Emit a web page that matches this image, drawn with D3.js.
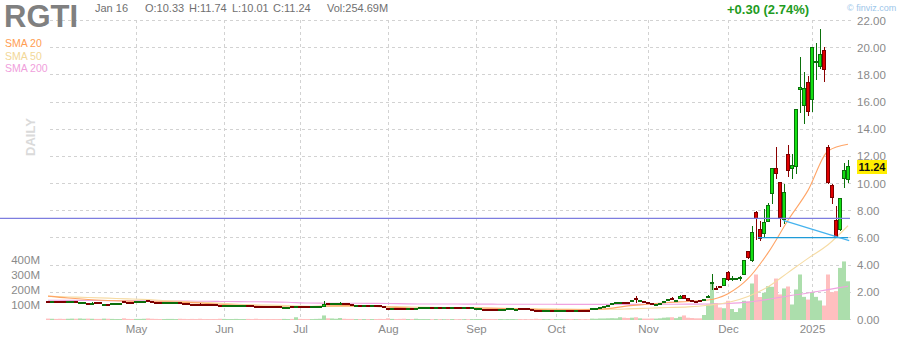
<!DOCTYPE html>
<html>
<head>
<meta charset="utf-8">
<script src="https://cdn.jsdelivr.net/npm/d3@7"></script>
<style>
body { margin: 0; background: #fff; }
svg { display: block; font-family: "Liberation Sans", Arial, sans-serif; }
</style>
</head>
<body>
<script>
// daily bars, Apr 1 2024 .. Jan 16 2025 (one row per month)
var opens = [
  1.36,1.32,1.34,1.33,1.29,1.30,1.35,1.33,1.20,1.20,1.17,1.15,1.23,1.22,1.07,1.12,1.16,1.13,1.13,1.30,1.28,1.27,
  1.26,1.28,1.31,1.40,1.30,1.28,1.26,1.25,1.25,1.26,1.26,1.22,1.17,1.15,1.11,1.10,1.14,1.10,1.09,1.09,1.08,1.03,
  0.99,1.00,0.99,1.00,1.00,0.99,1.03,1.02,0.95,0.94,0.93,0.93,0.93,0.93,0.92,0.84,0.83,0.92,0.90,
  0.94,0.93,0.92,0.92,0.93,0.95,0.99,1.16,1.13,1.14,1.15,1.16,1.15,1.07,1.04,1.05,1.04,1.06,1.04,1.05,1.00,0.99,
  0.84,0.80,0.82,0.80,0.79,0.77,0.78,0.80,0.83,0.84,0.85,0.86,0.85,0.86,0.85,0.86,0.85,0.87,0.86,0.85,0.86,0.85,
  0.78,0.79,0.76,0.74,0.73,0.72,0.74,0.75,0.76,0.77,0.76,0.80,0.79,0.78,0.77,0.69,0.68,0.67,0.68,0.69,
  0.66,0.67,0.68,0.69,0.68,0.67,0.68,0.67,0.66,0.74,0.82,0.84,0.88,0.96,1.10,1.20,1.21,1.25,1.24,1.32,1.58,1.33,1.30,
  1.26,1.20,1.10,1.15,1.25,1.42,1.56,1.34,1.52,1.74,1.52,1.38,1.31,1.38,1.42,1.60,2.66,2.31,2.43,2.51,
  3.43,2.99,2.95,3.00,3.31,4.97,4.31,7.88,6.61,6.32,7.22,9.27,11.10,10.08,7.37,12.13,11.10,11.25,16.90,15.73,17.41,
  16.16,18.90,18.59,19.76,12.65,9.86,7.29,6.63,10.37,10.33
];
var highs = [
  1.38,1.36,1.36,1.34,1.31,1.37,1.39,1.35,1.25,1.25,1.19,1.30,1.25,1.24,1.13,1.14,1.21,1.18,1.18,1.33,1.30,1.29,
  1.31,1.32,1.36,1.42,1.32,1.30,1.28,1.28,1.29,1.30,1.29,1.24,1.19,1.17,1.13,1.12,1.18,1.12,1.11,1.11,1.10,1.05,
  1.03,1.04,1.02,1.04,1.03,1.03,1.05,1.04,0.97,0.96,0.95,0.95,0.95,0.95,0.94,0.88,0.87,0.94,0.95,
  0.96,0.95,0.94,0.95,0.97,0.99,1.33,1.18,1.17,1.19,1.30,1.18,1.17,1.09,1.08,1.07,1.08,1.07,1.07,1.06,1.02,1.01,
  0.86,0.84,0.83,0.82,0.81,0.80,0.80,0.86,0.87,0.88,0.89,0.88,0.88,0.88,0.88,0.88,0.89,0.89,0.88,0.88,0.88,0.88,
  0.82,0.82,0.78,0.76,0.75,0.74,0.78,0.79,0.80,0.80,0.79,0.82,0.81,0.80,0.79,0.71,0.70,0.70,0.71,0.71,
  0.70,0.71,0.71,0.71,0.70,0.70,0.70,0.69,0.68,0.85,0.87,0.91,0.98,1.08,1.24,1.27,1.32,1.28,1.27,1.42,1.72,1.42,1.33,
  1.29,1.22,1.15,1.23,1.35,1.53,1.62,1.41,1.80,1.76,1.54,1.40,1.33,1.40,1.48,1.80,3.34,2.45,2.50,3.06,
  3.59,3.19,3.05,3.22,4.40,5.05,6.86,7.95,7.22,8.15,8.60,11.17,12.72,10.15,10.00,12.86,12.20,15.45,19.30,18.20,17.90,
  20.00,20.34,21.37,20.05,12.87,10.00,8.32,8.92,11.55,11.74
];
var lows = [
  1.31,1.30,1.31,1.26,1.25,1.28,1.33,1.26,1.18,1.19,1.11,1.13,1.18,1.17,1.05,1.08,1.14,1.12,1.11,1.24,1.25,1.24,
  1.24,1.26,1.29,1.35,1.25,1.23,1.23,1.23,1.24,1.25,1.25,1.16,1.12,1.11,1.06,1.06,1.07,1.06,1.06,1.05,1.04,0.99,
  0.97,0.98,0.97,0.98,0.98,0.97,0.99,0.98,0.90,0.90,0.89,0.90,0.89,0.89,0.88,0.82,0.81,0.88,0.88,
  0.90,0.89,0.89,0.90,0.92,0.94,0.97,1.10,1.11,1.12,1.13,1.12,1.11,1.03,1.02,1.02,1.02,1.02,1.02,1.01,0.96,0.96,
  0.79,0.78,0.78,0.76,0.75,0.75,0.75,0.79,0.82,0.83,0.84,0.83,0.84,0.83,0.84,0.83,0.84,0.84,0.83,0.84,0.83,0.84,
  0.76,0.77,0.72,0.70,0.69,0.69,0.72,0.74,0.75,0.76,0.75,0.76,0.75,0.75,0.73,0.65,0.64,0.65,0.66,0.66,
  0.64,0.65,0.66,0.66,0.65,0.65,0.64,0.63,0.63,0.72,0.80,0.82,0.86,0.94,1.08,1.17,1.16,1.19,1.19,1.30,1.23,1.31,1.25,
  1.20,1.13,1.08,1.13,1.23,1.40,1.42,1.32,1.50,1.53,1.36,1.27,1.22,1.32,1.40,1.58,2.16,2.16,2.35,2.45,
  2.82,2.82,2.90,2.82,3.28,4.45,4.24,5.83,5.78,6.03,7.15,8.47,10.37,6.78,7.00,10.52,10.37,10.74,15.20,14.40,15.00,
  15.29,17.63,18.44,17.48,10.00,8.47,5.97,6.49,9.71,10.01
];
var closes = [
  1.33,1.34,1.33,1.28,1.27,1.35,1.36,1.28,1.22,1.23,1.13,1.19,1.20,1.19,1.10,1.10,1.19,1.16,1.15,1.27,1.27,1.26,
  1.29,1.30,1.33,1.37,1.27,1.25,1.25,1.26,1.27,1.28,1.27,1.18,1.14,1.13,1.08,1.08,1.11,1.08,1.08,1.07,1.06,1.01,
  1.01,1.02,1.00,1.02,1.01,1.01,1.01,1.00,0.92,0.92,0.91,0.92,0.91,0.91,0.90,0.86,0.85,0.90,0.92,
  0.92,0.91,0.91,0.93,0.95,0.97,1.08,1.13,1.15,1.17,1.18,1.14,1.13,1.05,1.06,1.04,1.06,1.04,1.05,1.03,0.98,0.98,
  0.81,0.82,0.80,0.78,0.77,0.78,0.77,0.84,0.85,0.86,0.87,0.85,0.86,0.85,0.86,0.85,0.87,0.86,0.85,0.86,0.85,0.86,
  0.80,0.80,0.73,0.72,0.71,0.71,0.76,0.77,0.78,0.78,0.77,0.78,0.77,0.77,0.75,0.67,0.66,0.68,0.69,0.68,
  0.68,0.69,0.69,0.68,0.67,0.68,0.66,0.65,0.65,0.82,0.84,0.88,0.95,1.04,1.19,1.23,1.24,1.22,1.22,1.38,1.45,1.38,1.27,
  1.23,1.16,1.12,1.20,1.32,1.49,1.49,1.38,1.70,1.56,1.39,1.30,1.25,1.35,1.45,1.68,2.72,2.27,2.39,3.02,
  2.97,3.05,2.99,3.07,4.34,4.53,6.39,7.46,5.95,7.13,8.39,11.10,10.74,7.51,9.35,10.96,11.33,15.43,17.04,16.97,15.29,
  19.98,19.00,19.47,18.37,10.08,8.98,6.05,8.90,10.94,11.24
];
// volume, millions
var volumes = [
  6,5,4,5,4,5,6,5,7,5,6,5,4,4,6,5,4,3,3,8,4,3,
  4,4,5,7,5,4,3,3,4,4,3,5,4,3,4,3,5,3,3,3,3,5,
  4,3,3,4,3,3,4,3,5,3,3,3,3,3,3,4,3,4,15,
  4,3,3,3,4,5,27,8,7,5,10,5,4,4,3,3,3,3,3,3,4,3,
  8,4,3,4,5,3,3,5,3,3,3,2,2,2,2,2,3,2,2,2,2,2,
  3,3,4,3,3,2,3,2,2,3,2,3,2,2,2,5,3,2,2,2,
  2,2,2,2,2,2,2,2,2,6,5,7,7,8,9,8,15,12,10,12,15,8,6,
  6,7,6,8,12,14,15,9,18,27,12,10,8,8,30,100,250,110,80,75,
  125,70,50,75,125,120,240,300,150,178,222,218,273,167,207,220,100,200,300,151,133,
  182,151,127,93,300,182,189,344,387,254.69
];

// moving averages, read every 5th session
var smaStep = 5;
var sma20 = [1.72,1.58,1.47,1.40,1.35,1.32,1.30,1.26,1.18,1.09,1.02,0.96,0.92,0.95,1.00,1.02,0.98,0.92,0.85,0.82,
  0.84,0.86,0.84,0.80,0.76,0.72,0.72,0.74,0.80,1.00,1.12,1.25,1.33,1.43,1.90,3.00,4.90,7.30,9.50,12.40,12.90];
var sma50 = [1.70,1.66,1.62,1.57,1.52,1.46,1.38,1.30,1.24,1.17,1.10,1.06,1.02,0.98,0.96,0.96,0.96,0.95,0.93,0.90,
  0.87,0.85,0.83,0.82,0.80,0.78,0.76,0.75,0.75,0.78,0.83,0.88,0.93,1.05,1.25,1.70,2.40,3.45,4.50,5.50,6.90];
var sma200 = [1.42,1.41,1.40,1.39,1.38,1.37,1.36,1.35,1.34,1.32,1.31,1.30,1.27,1.21,1.20,1.20,1.19,1.18,1.15,1.14,
  1.14,1.13,1.13,1.12,1.12,1.12,1.11,1.11,1.11,1.11,1.12,1.12,1.13,1.14,1.18,1.28,1.48,1.73,1.95,2.20,2.45];

// drawn lines: [start session, end session], [start price, end price]
var trendIdx = [[-12, 200.5], [177.5, 200], [183.8, 200.3]];
var trendPrice = [[7.44, 7.44], [6.03, 6.03], [7.30, 5.80]];
var trendColors = ["#7d7ddf", "#1f9bd8", "#45b3ee"];

var priceTicks = d3.range(0, 23, 2);
var volumeTicks = [100, 200, 300, 400];
var holidays = ["2024-05-27", "2024-06-19", "2024-07-04", "2024-09-02",
  "2024-11-28", "2024-12-25", "2025-01-01", "2025-01-09"];

var w = 900, h = 340;
var dayFmt = d3.utcFormat("%Y-%m-%d");
var days = d3.utcDay.range(new Date(Date.UTC(2024, 3, 1)), new Date(Date.UTC(2025, 0, 17)))
    .filter(function(d) {
      var wd = d.getUTCDay();
      return wd > 0 && wd < 6 && holidays.indexOf(dayFmt(d)) < 0;
    });
var n = closes.length;

var x = d3.scaleLinear().domain([0, n - 1]).range([48, 848]);
var y = d3.scaleLinear().domain([0, 22]).range([319.5, 20.5]);
var vy = d3.scaleLinear().domain([0, 400]).range([319.5, 259.5]);

var svg = d3.select("body").append("svg")
    .attr("width", w)
    .attr("height", h);

function crisp(v) { return Math.floor(v) + 0.5; }

// grid
var monthStarts = d3.range(1, n).filter(function(i) {
  return days[i].getUTCMonth() !== days[i - 1].getUTCMonth();
});

svg.append("g")
    .selectAll("line")
    .data(priceTicks)
  .join("line")
    .attr("x1", 50)
    .attr("x2", 853)
    .attr("y1", function(d) { return crisp(y(d)); })
    .attr("y2", function(d) { return crisp(y(d)); })
    .attr("stroke", "#d2d2d2")
    .attr("stroke-dasharray", "3,3");

svg.append("g")
    .selectAll("line")
    .data(monthStarts)
  .join("line")
    .attr("x1", function(i) { return x(i) + 0.5; })
    .attr("x2", function(i) { return x(i) + 0.5; })
    .attr("y1", 20)
    .attr("y2", 320)
    .attr("stroke", "#d2d2d2")
    .attr("stroke-dasharray", "3,3");

// volume
svg.append("g")
    .selectAll("rect")
    .data(d3.range(n))
  .join("rect")
    .attr("x", function(i) { return x(i) - 2; })
    .attr("width", 4)
    .attr("y", function(i) { return vy(volumes[i]); })
    .attr("height", function(i) { return 320 - vy(volumes[i]); })
    .attr("fill", function(i) { return closes[i] >= opens[i] ? "#acdeac" : "#ffbfbf"; });

// moving averages
var smaLine = d3.line()
    .x(function(d, k) { return x(k * smaStep); })
    .y(function(d) { return y(d); })
    .curve(d3.curveMonotoneX);

[[sma200, "#f0a2e0"], [sma50, "#f6dba3"], [sma20, "#ffa567"]].forEach(function(s) {
  svg.append("path")
      .attr("d", smaLine(s[0]))
      .attr("fill", "none")
      .attr("stroke", s[1])
      .attr("stroke-width", 1.1);
});

// candles
var candle = svg.append("g")
    .selectAll("g")
    .data(d3.range(n))
  .join("g");

candle.append("line")
    .attr("x1", function(i) { return x(i) + 0.5; })
    .attr("x2", function(i) { return x(i) + 0.5; })
    .attr("y1", function(i) { return Math.round(y(highs[i])); })
    .attr("y2", function(i) { return Math.round(y(lows[i])); })
    .attr("stroke", function(i) { return closes[i] >= opens[i] ? "#0b700b" : "#8a0000"; });

candle.append("rect")
    .attr("x", function(i) { return x(i) - 1.5; })
    .attr("width", 3)
    .attr("y", function(i) { return crisp(y(Math.max(opens[i], closes[i]))); })
    .attr("height", function(i) {
      return Math.max(1, Math.floor(y(Math.min(opens[i], closes[i]))) - Math.floor(y(Math.max(opens[i], closes[i]))));
    })
    .attr("fill", function(i) { return closes[i] >= opens[i] ? "#12e012" : "#e00000"; })
    .attr("stroke", function(i) { return closes[i] >= opens[i] ? "#0b6e0b" : "#7c0000"; });

// drawn trend lines
svg.append("g")
    .selectAll("line")
    .data(trendIdx)
  .join("line")
    .attr("x1", function(d) { return x(d[0]); })
    .attr("x2", function(d) { return x(d[1]); })
    .attr("y1", function(d, k) { return y(trendPrice[k][0]); })
    .attr("y2", function(d, k) { return y(trendPrice[k][1]); })
    .attr("stroke", function(d, k) { return trendColors[k]; })
    .attr("stroke-width", 1.3);

// axes text
svg.append("g")
    .selectAll("text")
    .data(priceTicks)
  .join("text")
    .attr("x", 857)
    .attr("y", function(d) { return y(d) + 4; })
    .attr("font-size", 11.5)
    .attr("fill", "#8a8a8a")
    .text(function(d) { return d3.format(".2f")(d); });

svg.append("g")
    .selectAll("text")
    .data(volumeTicks)
  .join("text")
    .attr("x", 40)
    .attr("y", function(d) { return vy(d) + 4; })
    .attr("text-anchor", "end")
    .attr("font-size", 11.5)
    .attr("fill", "#8a8a8a")
    .text(function(d) { return d + "M"; });

svg.append("g")
    .selectAll("text")
    .data(monthStarts)
  .join("text")
    .attr("x", function(i) { return x(i) + 0.5; })
    .attr("y", 333)
    .attr("text-anchor", "middle")
    .attr("font-size", 11.5)
    .attr("fill", "#8a8a8a")
    .text(function(i) {
      return days[i].getUTCMonth() === 0 ? d3.utcFormat("%Y")(days[i]) : d3.utcFormat("%b")(days[i]);
    });

// last price tag
var last = n - 1;
svg.append("rect")
    .attr("x", 857)
    .attr("y", Math.round(y(closes[last])) - 7)
    .attr("width", 30)
    .attr("height", 14)
    .attr("fill", "#ffee00");
svg.append("text")
    .attr("x", 872)
    .attr("y", Math.round(y(closes[last])) + 4)
    .attr("text-anchor", "middle")
    .attr("font-size", 11)
    .attr("font-weight", "bold")
    .attr("fill", "#111")
    .text(d3.format(".2f")(closes[last]));

// header
svg.append("text")
    .attr("x", 4)
    .attr("y", 27)
    .attr("font-size", 31)
    .attr("font-weight", "bold")
    .attr("fill", "#808080")
    .text("RGTI");

var hdr = [
  [95, d3.utcFormat("%b %d")(days[last]).replace(" 0", " ")],
  [145, "O:" + opens[last].toFixed(2)],
  [189, "H:" + highs[last].toFixed(2)],
  [232, "L:" + lows[last].toFixed(2)],
  [273, "C:" + closes[last].toFixed(2)],
  [327, "Vol:" + volumes[last].toFixed(2) + "M"]
];
svg.append("g")
    .selectAll("text")
    .data(hdr)
  .join("text")
    .attr("x", function(d) { return d[0]; })
    .attr("y", 12)
    .attr("font-size", 11)
    .attr("fill", "#707070")
    .text(function(d) { return d[1]; });

var chg = closes[last] - closes[last - 1];
svg.append("text")
    .attr("x", 727)
    .attr("y", 14)
    .attr("font-size", 13)
    .attr("font-weight", "bold")
    .attr("fill", "#1e9b22")
    .text("+" + chg.toFixed(2) + " (" + (chg / closes[last - 1] * 100).toFixed(2) + "%)");

svg.append("text")
    .attr("x", 847)
    .attr("y", 11)
    .attr("font-size", 9)
    .attr("fill", "#9cc6ea")
    .text("\u00a9 finviz.com");

var legend = [["SMA 20", "#ff9d52"], ["SMA 50", "#f2d797"], ["SMA 200", "#f0a0dc"]];
svg.append("g")
    .selectAll("text")
    .data(legend)
  .join("text")
    .attr("x", 5)
    .attr("y", function(d, k) { return 47 + k * 12.7; })
    .attr("font-size", 10.5)
    .attr("fill", function(d) { return d[1]; })
    .text(function(d) { return d[0]; });

svg.append("text")
    .attr("transform", "translate(35,137)rotate(-90)")
    .attr("text-anchor", "middle")
    .attr("font-size", 13)
    .attr("font-weight", "bold")
    .attr("fill", "#dadada")
    .text("DAILY");
</script>
</body>
</html>
